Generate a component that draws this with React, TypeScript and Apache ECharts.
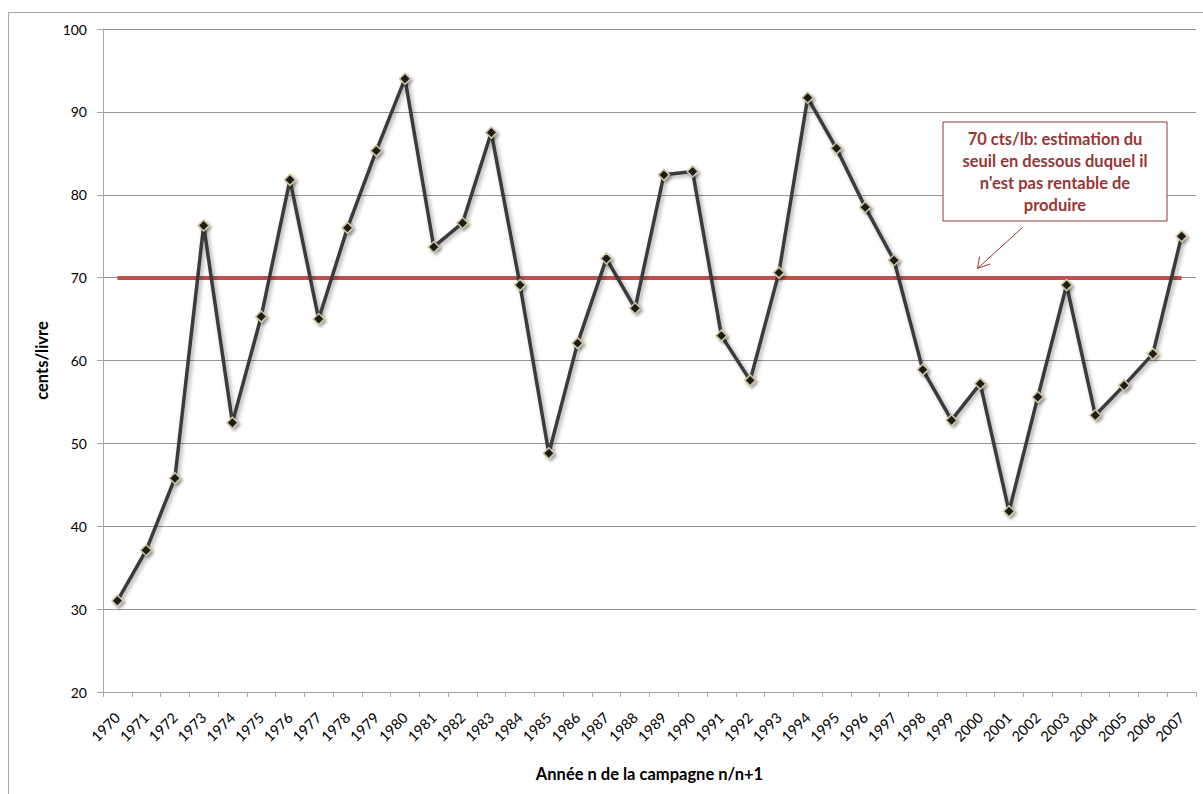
import React, { useEffect, useRef } from "react";
import * as echarts from "echarts";

const years = [
  "1970", "1971", "1972", "1973", "1974", "1975", "1976", "1977", "1978", "1979",
  "1980", "1981", "1982", "1983", "1984", "1985", "1986", "1987", "1988", "1989",
  "1990", "1991", "1992", "1993", "1994", "1995", "1996", "1997", "1998", "1999",
  "2000", "2001", "2002", "2003", "2004", "2005", "2006", "2007",
];

const prices = [
  31.0, 37.1, 45.8, 76.3, 52.5, 65.3, 81.8, 65.0, 76.0, 85.3,
  94.0, 73.7, 76.6, 87.5, 69.1, 48.8, 62.1, 72.3, 66.3, 82.4,
  82.8, 63.0, 57.6, 70.6, 91.7, 85.6, 78.5, 72.1, 58.9, 52.8,
  57.2, 41.8, 55.6, 69.1, 53.4, 57.0, 60.8, 75.0,
];

const threshold = 70;

const yTicks = { min: 20, max: 100, interval: 10 };

const annotationLines = [
  "70 cts/lb: estimation du",
  "seuil en dessous duquel il",
  "n'est pas rentable de",
  "produire",
];

const xAxisTitle = "Année n de la campagne n/n+1";
const yAxisTitle = "cents/livre";

const FONT = "Lato, 'Open Sans', sans-serif";
const DARK_RED = "#953735";

export default function App() {
  const ref = useRef<HTMLDivElement>(null);

  useEffect(() => {
    if (!ref.current) return;
    const chart = echarts.init(ref.current, undefined, { renderer: "svg" });
    chart.setOption({
      animation: false,
      backgroundColor: "#ffffff",
      textStyle: { fontFamily: FONT },
      grid: { left: 103, top: 29, right: 7, bottom: 102, containLabel: false },
      xAxis: {
        type: "category",
        data: years,
        boundaryGap: true,
        name: xAxisTitle,
        nameLocation: "middle",
        nameGap: 73,
        nameTextStyle: { fontFamily: FONT, fontSize: 16.5, fontWeight: "bold", color: "#000" },
        axisLine: { show: true, lineStyle: { color: "#a6a6a6", width: 1 } },
        axisTick: { show: true, length: 5, alignWithLabel: false, lineStyle: { color: "#a6a6a6" } },
        axisLabel: {
          interval: 0,
          rotate: 45,
          margin: 23,
          fontSize: 14.5,
          fontFamily: FONT,
          color: "#000",
        },
        splitLine: { show: false },
      },
      yAxis: {
        type: "value",
        min: yTicks.min,
        max: yTicks.max,
        interval: yTicks.interval,
        name: yAxisTitle,
        nameLocation: "middle",
        nameGap: 53,
        nameRotate: 90,
        nameTextStyle: { fontFamily: FONT, fontSize: 16.5, fontWeight: "bold", color: "#000" },
        axisLine: { show: true, lineStyle: { color: "#a6a6a6", width: 1 } },
        axisTick: { show: true, length: 6, lineStyle: { color: "#a6a6a6" } },
        axisLabel: { margin: 16, fontSize: 14, fontFamily: FONT, color: "#000" },
        splitLine: { show: true, lineStyle: { color: "#969696", width: 1 } },
      },
      series: [
        {
          type: "line",
          data: prices,
          symbol: "diamond",
          symbolSize: 11,
          z: 3,
          lineStyle: {
            color: "#3a3a3a",
            width: 3.5,
            shadowColor: "rgba(0,0,0,0.35)",
            shadowBlur: 4,
            shadowOffsetX: 2,
            shadowOffsetY: 2,
          },
          itemStyle: {
            color: "#1c1c1c",
            borderColor: "#cfc49a",
            borderWidth: 1.5,
            shadowColor: "rgba(0,0,0,0.35)",
            shadowBlur: 3,
            shadowOffsetX: 2,
            shadowOffsetY: 2,
          },
          markLine: {
            silent: true,
            symbol: ["none", "none"],
            label: { show: false },
            z: 2,
            lineStyle: { color: "#c0504d", width: 4, type: "solid" },
            data: [
              [
                { coord: [years[0], threshold] },
                { coord: [years[years.length - 1], threshold] },
              ],
            ],
          },
        },
      ],
      graphic: [
        {
          type: "rect",
          silent: true,
          shape: { x: 8.5, y: 12.5, width: 1200, height: 790 },
          style: { fill: "none", stroke: "#a6a6a6", lineWidth: 1 },
          z: 0,
        },
        {
          type: "rect",
          silent: true,
          shape: { x: 943, y: 122, width: 224, height: 99 },
          style: { fill: "#ffffff", stroke: DARK_RED, lineWidth: 1 },
          z: 10,
        },
        {
          type: "text",
          silent: true,
          x: 1055,
          y: 172,
          z: 11,
          style: {
            text: annotationLines.join("\n"),
            align: "center",
            verticalAlign: "middle",
            fill: DARK_RED,
            fontFamily: FONT,
            fontSize: 16.5,
            fontWeight: "bold",
            lineHeight: 22,
          },
        },
        {
          type: "line",
          silent: true,
          z: 10,
          shape: { x1: 1022.7, y1: 227.3, x2: 977.7, y2: 268.3 },
          style: { stroke: DARK_RED, lineWidth: 1 },
        },
        {
          type: "polyline",
          silent: true,
          z: 10,
          shape: { points: [[979.5, 256.5], [977.7, 268.3], [990, 264]] },
          style: { stroke: DARK_RED, lineWidth: 1, fill: "none" },
        },
      ],
    });
    return () => chart.dispose();
  }, []);

  return (
    <div
      ref={ref}
      style={{ position: "absolute", left: 0, top: 0, width: 1203, height: 794 }}
    />
  );
}
